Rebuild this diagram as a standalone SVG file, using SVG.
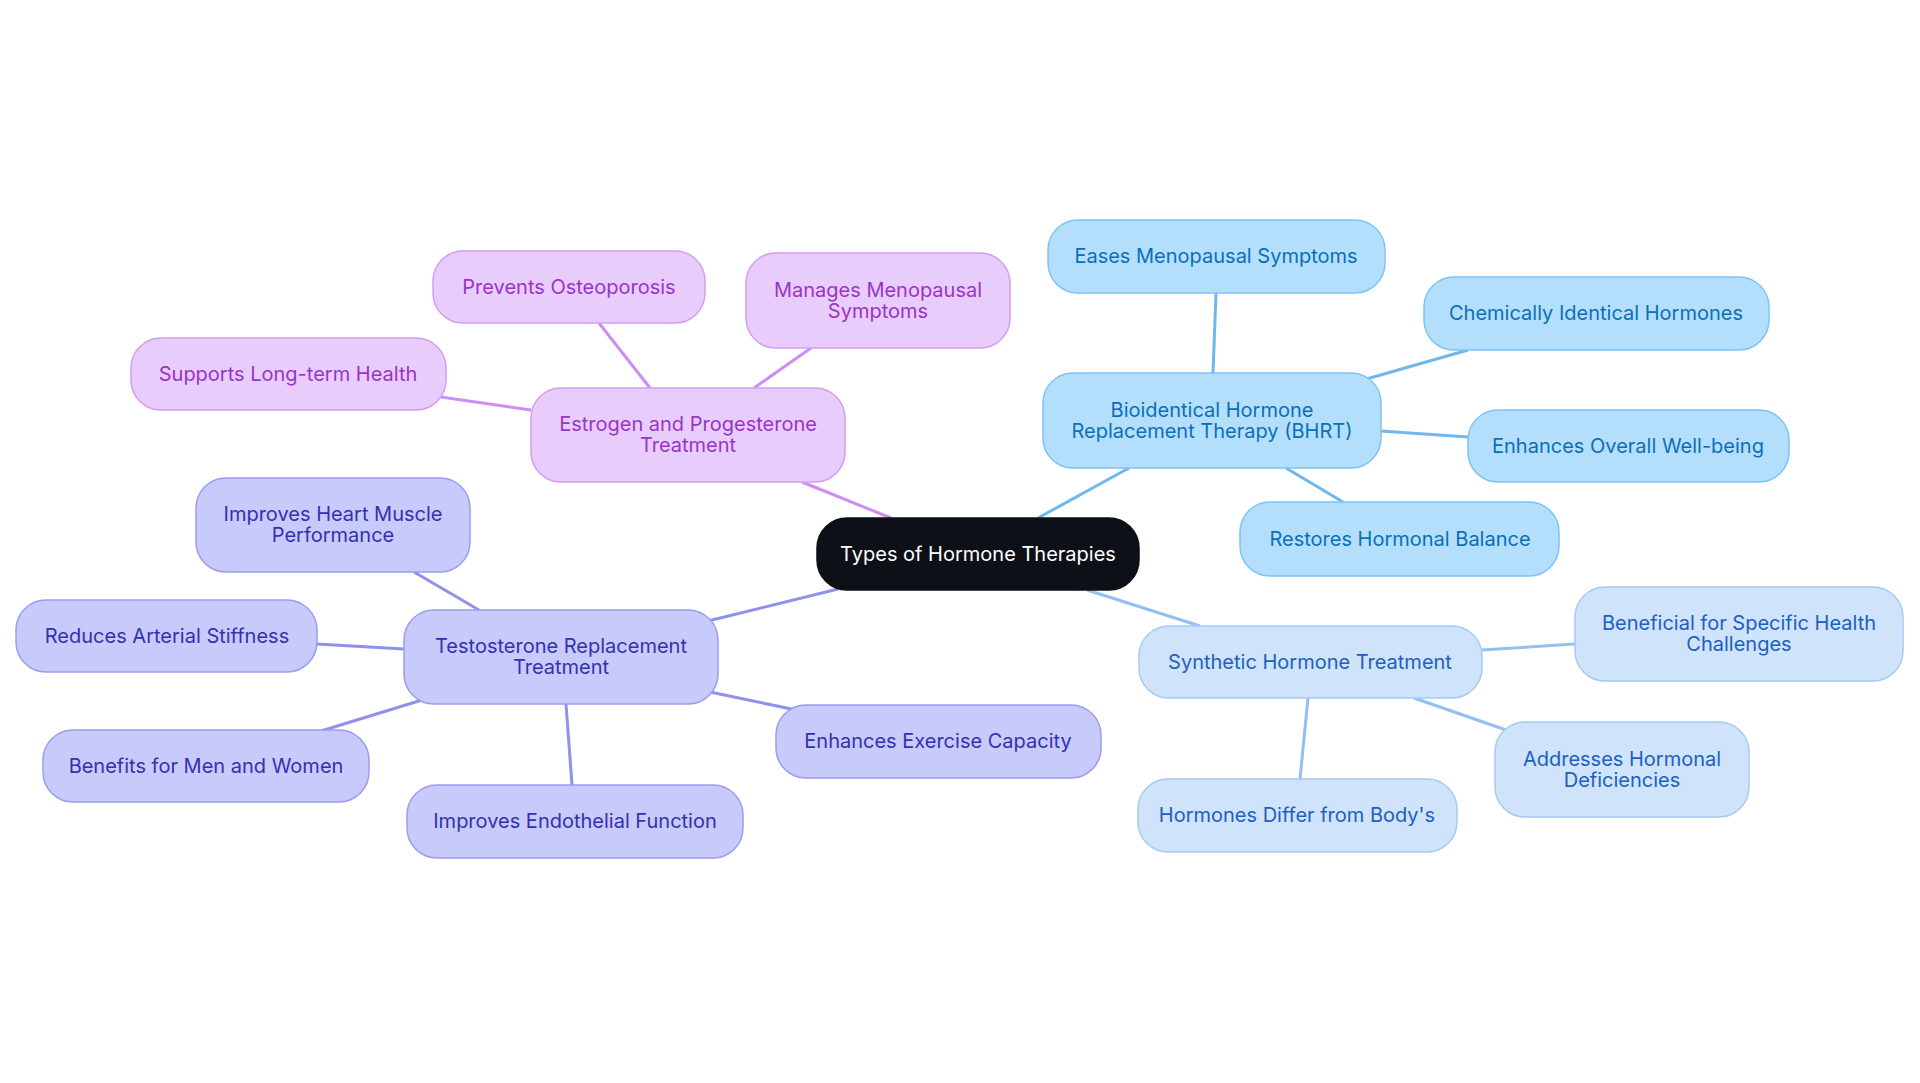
<svg xmlns="http://www.w3.org/2000/svg" width="1920" height="1083" viewBox="0 0 1920 1083">
<style>
text{font-family:Inter,"Noto Sans",sans-serif;font-size:20px;text-anchor:middle;dominant-baseline:central}
rect{stroke-width:1.5}
.c rect{fill:#0d1117;stroke:#0d1117}.c text{fill:#fff}
.b rect{fill:#b3dffc;stroke:#7cc4f5}.b text{fill:#0b6fb8}
.s rect{fill:#cfe3fb;stroke:#a7c9f2}.s text{fill:#2060c0}
.e rect{fill:#e8ccfc;stroke:#d49cf5}.e text{fill:#9a34c8}
.t rect{fill:#c8cafc;stroke:#9a9cf0}.t text{fill:#3232b0}
#edges line{stroke-width:3}
.lb{stroke:#6fb8ec}.ls{stroke:#94bff0}.le{stroke:#cc8ef2}.lt{stroke:#8f91ea}
</style>
<rect width="1920" height="1083" fill="#fff"/>
<g id="edges">
<line class="lb" x1="1038" y1="518" x2="1129" y2="468"/>
<line class="ls" x1="1087" y1="590" x2="1200" y2="626"/>
<line class="le" x1="891" y1="518" x2="802" y2="482"/>
<line class="lt" x1="838" y1="589" x2="708" y2="621"/>
<line class="lb" x1="1213" y1="373" x2="1216" y2="293"/>
<line class="lb" x1="1363" y1="380" x2="1468" y2="350"/>
<line class="lb" x1="1381" y1="431" x2="1468" y2="437"/>
<line class="lb" x1="1286" y1="468" x2="1343" y2="502"/>
<line class="ls" x1="1482" y1="650" x2="1575" y2="644"/>
<line class="ls" x1="1414" y1="698" x2="1509" y2="731"/>
<line class="ls" x1="1308" y1="698" x2="1300" y2="779"/>
<line class="le" x1="650" y1="388" x2="599" y2="323"/>
<line class="le" x1="754" y1="388" x2="811" y2="348"/>
<line class="le" x1="531" y1="410" x2="441" y2="397"/>
<line class="lt" x1="479" y1="610" x2="414" y2="572"/>
<line class="lt" x1="404" y1="649" x2="317" y2="644"/>
<line class="lt" x1="422" y1="700" x2="321" y2="731"/>
<line class="lt" x1="566" y1="704" x2="572" y2="785"/>
<line class="lt" x1="710" y1="692" x2="796" y2="710"/>
</g>
<g id="center" class="c"><rect x="817" y="518" width="322" height="72" rx="30"/><text x="978" y="554">Types of Hormone Therapies</text></g>
<g id="bhrt" class="b"><rect x="1043" y="373" width="338" height="95" rx="30"/><text x="1212" y="410">Bioidentical Hormone</text><text x="1212" y="431">Replacement Therapy (BHRT)</text></g>
<g id="eases" class="b"><rect x="1048" y="220" width="337" height="73" rx="30"/><text x="1216" y="256">Eases Menopausal Symptoms</text></g>
<g id="chem" class="b"><rect x="1424" y="277" width="345" height="73" rx="30"/><text x="1596" y="313">Chemically Identical Hormones</text></g>
<g id="overall" class="b"><rect x="1468" y="410" width="321" height="72" rx="30"/><text x="1628" y="446">Enhances Overall Well-being</text></g>
<g id="restores" class="b"><rect x="1240" y="502" width="319" height="74" rx="30"/><text x="1400" y="539">Restores Hormonal Balance</text></g>
<g id="synthetic" class="s"><rect x="1139" y="626" width="343" height="72" rx="30"/><text x="1310" y="662">Synthetic Hormone Treatment</text></g>
<g id="beneficial" class="s"><rect x="1575" y="587" width="328" height="94" rx="30"/><text x="1739" y="623">Beneficial for Specific Health</text><text x="1739" y="644">Challenges</text></g>
<g id="addresses" class="s"><rect x="1495" y="722" width="254" height="95" rx="30"/><text x="1622" y="759">Addresses Hormonal</text><text x="1622" y="780">Deficiencies</text></g>
<g id="differ" class="s"><rect x="1138" y="779" width="319" height="73" rx="30"/><text x="1297" y="815">Hormones Differ from Body's</text></g>
<g id="estrogen" class="e"><rect x="531" y="388" width="314" height="94" rx="30"/><text x="688" y="424">Estrogen and Progesterone</text><text x="688" y="445">Treatment</text></g>
<g id="prevents" class="e"><rect x="433" y="251" width="272" height="72" rx="30"/><text x="569" y="287">Prevents Osteoporosis</text></g>
<g id="manages" class="e"><rect x="746" y="253" width="264" height="95" rx="30"/><text x="878" y="290">Manages Menopausal</text><text x="878" y="311">Symptoms</text></g>
<g id="supports" class="e"><rect x="131" y="338" width="315" height="72" rx="30"/><text x="288" y="374">Supports Long-term Health</text></g>
<g id="testosterone" class="t"><rect x="404" y="610" width="314" height="94" rx="30"/><text x="561" y="646">Testosterone Replacement</text><text x="561" y="667">Treatment</text></g>
<g id="heart" class="t"><rect x="196" y="478" width="274" height="94" rx="30"/><text x="333" y="514">Improves Heart Muscle</text><text x="333" y="535">Performance</text></g>
<g id="arterial" class="t"><rect x="16" y="600" width="301" height="72" rx="30"/><text x="167" y="636">Reduces Arterial Stiffness</text></g>
<g id="men" class="t"><rect x="43" y="730" width="326" height="72" rx="30"/><text x="206" y="766">Benefits for Men and Women</text></g>
<g id="endo" class="t"><rect x="407" y="785" width="336" height="73" rx="30"/><text x="575" y="821">Improves Endothelial Function</text></g>
<g id="exercise" class="t"><rect x="776" y="705" width="325" height="73" rx="30"/><text x="938" y="741">Enhances Exercise Capacity</text></g>
</svg>
